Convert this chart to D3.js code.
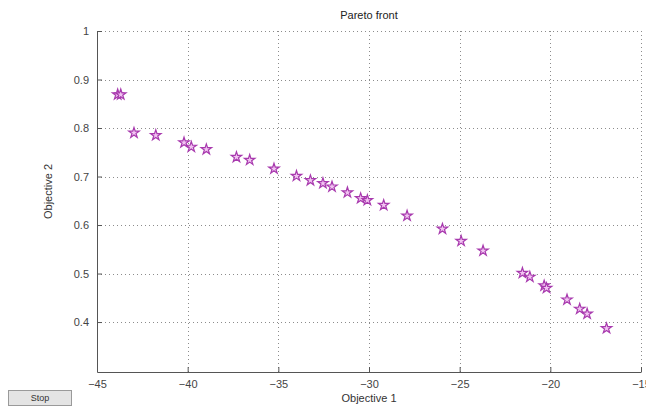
<!DOCTYPE html>
<html>
<head>
<meta charset="utf-8">
<script src="https://cdn.jsdelivr.net/npm/d3@7"></script>
<style>
  body { margin: 0; background: #fff; }
  #plot { position: relative; width: 646px; height: 412px; }
  .stop-btn {
    position: absolute; left: 8px; top: 390px; width: 64px; height: 16px;
    background: #e4e4e4; border: 1px solid #9a9a9a; box-sizing: border-box;
    font: 9px "Liberation Sans", Arial, sans-serif; color: #333;
    text-align: center; line-height: 14px;
  }
</style>
</head>
<body>
<div id="plot"></div>
<script>
// objective values
var obj1 = [-43.86, -43.69, -42.96, -41.76, -40.2, -39.8, -38.97, -37.31, -36.58,
            -35.24, -34.0, -33.23, -32.54, -32.04, -31.19, -30.46, -30.09, -29.19,
            -27.9, -25.95, -24.92, -23.71, -21.54, -21.13, -20.34, -20.21, -19.08,
            -18.38, -17.97, -16.9];
var obj2 = [0.869, 0.869, 0.790, 0.785, 0.770, 0.761, 0.756, 0.740, 0.734,
            0.716, 0.701, 0.692, 0.686, 0.679, 0.667, 0.655, 0.651, 0.641,
            0.619, 0.592, 0.567, 0.547, 0.501, 0.493, 0.475, 0.470, 0.446,
            0.427, 0.417, 0.387];
var xTicks = [-45, -40, -35, -30, -25, -20, -15];
var yTicks = [0.4, 0.5, 0.6, 0.7, 0.8, 0.9, 1];

var margin = {top: 31, right: 5, bottom: 40, left: 97},
    width = 646 - margin.left - margin.right,
    height = 412 - margin.top - margin.bottom;

var font = "'Liberation Sans', Arial, sans-serif";

var svg = d3.select("#plot")
  .append("svg")
    .attr("width", 646)
    .attr("height", 412)
  .append("g")
    .attr("transform", "translate(" + margin.left + "," + margin.top + ")");

var x = d3.scaleLinear().domain([-45, -15]).range([0, width]);
var y = d3.scaleLinear().domain([0.297, 1]).range([height, 0]);

// dotted grid
svg.append("g").selectAll("line")
  .data(xTicks.slice(1))
  .enter().append("line")
    .attr("x1", function(d) { return Math.round(x(d)) + 0.5; })
    .attr("x2", function(d) { return Math.round(x(d)) + 0.5; })
    .attr("y1", 0).attr("y2", height)
    .attr("stroke", "#8c8c8c")
    .attr("stroke-dasharray", "1,3");
svg.append("g").selectAll("line")
  .data(yTicks)
  .enter().append("line")
    .attr("y1", function(d) { return Math.round(y(d)) + 0.5; })
    .attr("y2", function(d) { return Math.round(y(d)) + 0.5; })
    .attr("x1", 0).attr("x2", width)
    .attr("stroke", "#8c8c8c")
    .attr("stroke-dasharray", "1,3");

// axes, ticks pointing inward
var xAxis = svg.append("g")
    .attr("transform", "translate(0," + height + ")")
    .call(d3.axisBottom(x).tickValues(xTicks).tickSizeInner(-5).tickSizeOuter(0).tickPadding(8));
var yAxis = svg.append("g")
    .call(d3.axisLeft(y).tickValues(yTicks).tickFormat(d3.format("")).tickSizeInner(-5).tickSizeOuter(0).tickPadding(8));

[xAxis, yAxis].forEach(function(a) {
  a.select(".domain").attr("stroke", "#555");
  a.selectAll(".tick line").attr("stroke", "#555");
  a.selectAll("text")
    .style("font-family", font)
    .style("font-size", "11px")
    .attr("fill", "#444");
});

// points
svg.selectAll("path.pt")
  .data(obj1.map(function(v, i) { return [v, obj2[i]]; }))
  .enter().append("path")
    .attr("class", "pt")
    .attr("d", d3.symbol().type(d3.symbolStar).size(34))
    .attr("transform", function(d) { return "translate(" + x(d[0]) + "," + y(d[1]) + ")"; })
    .attr("fill", "#f2c4f2")
    .attr("stroke", "#a83aae")
    .attr("stroke-width", 1.2);

svg.append("text")
  .attr("x", width / 2)
  .attr("y", -12)
  .attr("text-anchor", "middle")
  .style("font-family", font)
  .style("font-size", "11px")
  .attr("fill", "#222")
  .text("Pareto front");

svg.append("text")
  .attr("x", width / 2)
  .attr("y", height + 30)
  .attr("text-anchor", "middle")
  .style("font-family", font)
  .style("font-size", "11px")
  .attr("fill", "#333")
  .text("Objective 1");

svg.append("text")
  .attr("transform", "rotate(-90)")
  .attr("x", -height / 2 + 10)
  .attr("y", -margin.left + 52)
  .attr("text-anchor", "middle")
  .style("font-family", font)
  .style("font-size", "11px")
  .attr("fill", "#333")
  .text("Objective 2");

d3.select("#plot").append("div")
  .attr("class", "stop-btn")
  .text("Stop");
</script>
</body>
</html>
